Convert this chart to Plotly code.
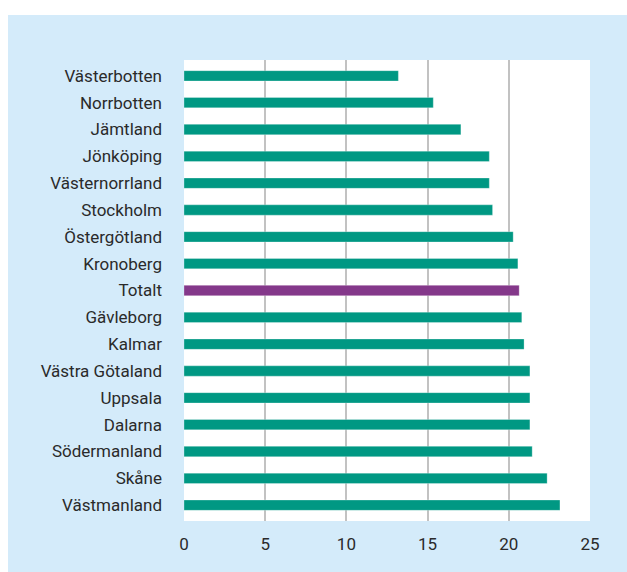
import plotly.graph_objects as go

regions = ["Västerbotten", "Norrbotten", "Jämtland", "Jönköping", "Västernorrland",
           "Stockholm", "Östergötland", "Kronoberg", "Totalt", "Gävleborg", "Kalmar",
           "Västra Götaland", "Uppsala", "Dalarna", "Södermanland", "Skåne", "Västmanland"]
values = [13.2, 15.35, 17.05, 18.8, 18.8, 19.0, 20.27, 20.56, 20.64, 20.8, 20.94,
          21.3, 21.3, 21.3, 21.44, 22.36, 23.15]
x_ticks = [0, 5, 10, 15, 20, 25]

TEAL = "#009883"
PURPLE = "#84388a"
colors = [PURPLE if r == "Totalt" else TEAL for r in regions]

fig = go.Figure(go.Bar(
    x=values, y=regions, orientation="h",
    marker=dict(color=colors, line=dict(color="rgba(255,255,255,0.35)", width=0.8)),
    hoverinfo="x+y",
))

W, H = 627, 572
L, T, R, B = 184, 60, 37, 51
pw, ph = W - L - R, H - T - B
n = len(regions)
pad = 0.59

TXT = "#2a2a2a"
fig.update_layout(
    width=W, height=H,
    margin=dict(l=L, r=R, t=T, b=B, pad=0),
    paper_bgcolor="#d4ebfa",
    plot_bgcolor="white",
    bargap=0.615,
    showlegend=False,
    font=dict(family="Roboto, sans-serif", size=17, color=TXT),
    xaxis=dict(
        range=[0, 25], tickvals=x_ticks, showgrid=True, gridcolor="#c2c2c2", gridwidth=1.5,
        zeroline=False, showline=False, ticks="", ticklabelstandoff=11,
        tickfont=dict(size=17, color=TXT), fixedrange=True,
    ),
    yaxis=dict(
        type="category", categoryorder="array", categoryarray=regions,
        range=[n - 1 + pad, -pad], showgrid=False, zeroline=False, showline=False,
        ticks="", ticklabelstandoff=21, tickfont=dict(size=17, color=TXT), fixedrange=True,
    ),
    shapes=[
        dict(type="rect", xref="paper", yref="paper", layer="above",
             x0=-L / pw - 0.01, x1=(W - L) / pw + 0.01,
             y0=(ph + T - 15) / ph, y1=(ph + T) / ph + 0.01,
             fillcolor="white", line=dict(width=0)),
        dict(type="rect", xref="paper", yref="paper", layer="above",
             x0=-L / pw - 0.01, x1=(8 - L) / pw,
             y0=-B / ph - 0.01, y1=(ph + T) / ph + 0.01,
             fillcolor="white", line=dict(width=0)),
    ],
)

fig.write_html(
    "out.html",
    config={"displayModeBar": False},
    post_script="document.body.style.margin='0';document.body.style.overflow='hidden';",
)
